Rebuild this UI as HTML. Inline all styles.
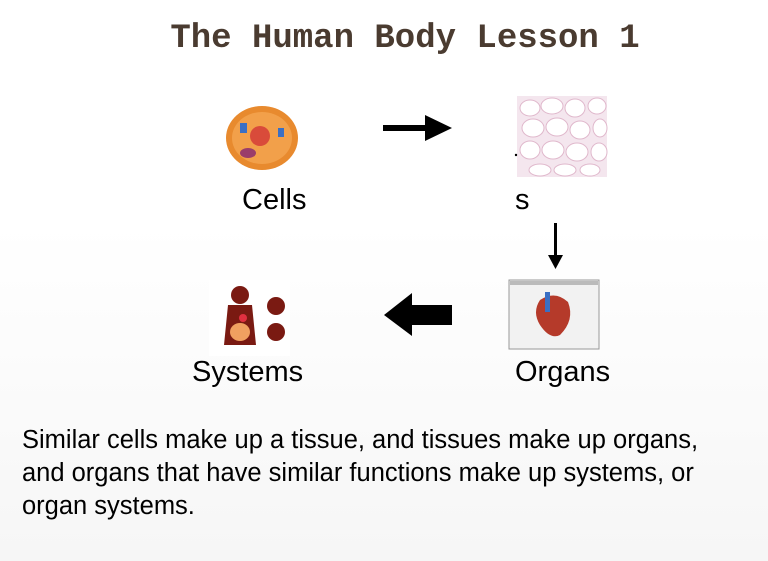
<!DOCTYPE html>
<html><head><meta charset="utf-8"><style>
html,body{margin:0;padding:0}
body{width:768px;height:561px;position:relative;overflow:hidden;background:linear-gradient(#ffffff 0%,#ffffff 40%,#f6f6f6 100%);font-family:"Liberation Sans",sans-serif}
.t{position:absolute;white-space:nowrap}
.title{left:0;width:810px;text-align:center;top:20px;font-family:"Liberation Mono",monospace;font-weight:bold;font-size:34px;color:#4a3b30}
.lbl{font-size:29px;color:#000}
.p{left:22px;font-size:25.5px;color:#000;line-height:33px;top:424px}
</style></head><body>
<div class="t title">The Human Body Lesson 1</div>

<svg width="768" height="561" style="position:absolute;left:0;top:0">
  <rect x="226" y="96" width="86" height="80" fill="#fff"/>
  <ellipse cx="262" cy="138" rx="36" ry="32" fill="#e88a2e"/>
  <ellipse cx="262" cy="138" rx="30" ry="26" fill="#f2a04a"/>
  <circle cx="260" cy="136" r="10" fill="#d94b3a"/>
  <rect x="240" y="123" width="7" height="10" fill="#3a6fc4"/>
  <rect x="278" y="128" width="6" height="9" fill="#3a6fc4"/>
  <ellipse cx="248" cy="153" rx="8" ry="5" fill="#9b3d6a"/>
  <rect x="383" y="125" width="46" height="6" fill="#000"/>
  <polygon points="425,115 452,128 425,141" fill="#000"/>
  <rect x="517" y="96" width="90" height="81" fill="#f4e6ee"/>
  <g fill="#fff" stroke="#e0b8cc" stroke-width="1">
    <ellipse cx="530" cy="108" rx="10" ry="8"/><ellipse cx="552" cy="106" rx="11" ry="8"/><ellipse cx="575" cy="108" rx="10" ry="9"/><ellipse cx="597" cy="106" rx="9" ry="8"/>
    <ellipse cx="533" cy="128" rx="11" ry="9"/><ellipse cx="557" cy="127" rx="11" ry="9"/><ellipse cx="580" cy="130" rx="10" ry="9"/><ellipse cx="600" cy="128" rx="7" ry="9"/>
    <ellipse cx="530" cy="150" rx="10" ry="9"/><ellipse cx="553" cy="150" rx="11" ry="9"/><ellipse cx="577" cy="152" rx="11" ry="9"/><ellipse cx="599" cy="152" rx="8" ry="9"/>
    <ellipse cx="540" cy="170" rx="11" ry="6"/><ellipse cx="565" cy="170" rx="11" ry="6"/><ellipse cx="590" cy="170" rx="10" ry="6"/>
  </g>
  <circle cx="516" cy="155" r="1.2" fill="#000"/>
  <rect x="554" y="223" width="3" height="34" fill="#000"/>
  <polygon points="548,255 563,255 555.5,269" fill="#000"/>
  <rect x="509" y="280" width="90" height="69" fill="#f2f2f2" stroke="#999" stroke-width="1"/>
  <rect x="510" y="281" width="88" height="4" fill="#bbb"/>
  <path d="M540 300 Q555 290 568 302 Q575 320 560 335 Q550 340 540 325 Q532 312 540 300Z" fill="#b53a2a"/>
  <rect x="545" y="292" width="5" height="20" fill="#3a6fc4"/>
  <polygon points="452,305 412,305 412,293 384,315 412,336 412,325 452,325" fill="#000"/>
  <rect x="209" y="280" width="81" height="76" fill="#fff"/>
  <circle cx="240" cy="295" r="9" fill="#7a1a12"/>
  <path d="M228 305 L252 305 L256 345 L224 345Z" fill="#7a1a12"/>
  <ellipse cx="240" cy="332" rx="10" ry="9" fill="#f0a060"/>
  <circle cx="243" cy="318" r="4" fill="#e03040"/>
  <circle cx="276" cy="306" r="9" fill="#7a1a12"/>
  <circle cx="276" cy="332" r="9" fill="#7a1a12"/>
</svg>

<div class="t lbl" style="left:242px;top:184px">Cells</div>
<div class="t lbl" style="left:515px;top:184px">s</div>
<div class="t lbl" style="left:192px;top:356px">Systems</div>
<div class="t lbl" style="left:515px;top:356px">Organs</div>

<div class="t p">Similar cells make up a tissue, and tissues make up organs,<br>and organs that have similar functions make up systems, or<br>organ systems.</div>
</body></html>
